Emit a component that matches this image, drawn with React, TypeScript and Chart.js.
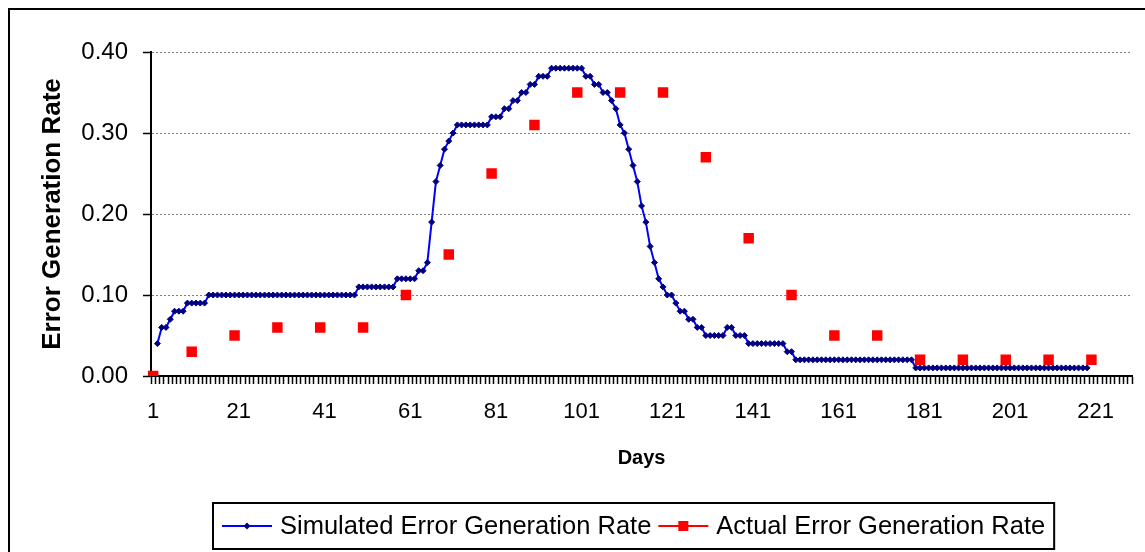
import React, { useEffect, useRef } from 'react';
import { Chart, registerables } from 'chart.js';

Chart.register(...registerables);

// ---- data ----
const DAY_COUNT = 229;
const dayLabels: string[] = Array.from({ length: DAY_COUNT }, (_, i) => String(i + 1));

// Simulated error generation rate, one value per day (day 1 .. day 229, null = no value)
const simulatedRate: (number | null)[] = [
  null, 0.04, 0.06, 0.06, 0.07, 0.08, 0.08, 0.08, 0.09, 0.09, // 1-10
  0.09, 0.09, 0.09, 0.10, 0.10, 0.10, 0.10, 0.10, 0.10, 0.10, // 11-20
  0.10, 0.10, 0.10, 0.10, 0.10, 0.10, 0.10, 0.10, 0.10, 0.10, // 21-30
  0.10, 0.10, 0.10, 0.10, 0.10, 0.10, 0.10, 0.10, 0.10, 0.10, // 31-40
  0.10, 0.10, 0.10, 0.10, 0.10, 0.10, 0.10, 0.10, 0.11, 0.11, // 41-50
  0.11, 0.11, 0.11, 0.11, 0.11, 0.11, 0.11, 0.12, 0.12, 0.12, // 51-60
  0.12, 0.12, 0.13, 0.13, 0.14, 0.19, 0.24, 0.26, 0.28, 0.29, // 61-70
  0.30, 0.31, 0.31, 0.31, 0.31, 0.31, 0.31, 0.31, 0.31, 0.32, // 71-80
  0.32, 0.32, 0.33, 0.33, 0.34, 0.34, 0.35, 0.35, 0.36, 0.36, // 81-90
  0.37, 0.37, 0.37, 0.38, 0.38, 0.38, 0.38, 0.38, 0.38, 0.38, // 91-100
  0.38, 0.37, 0.37, 0.36, 0.36, 0.35, 0.35, 0.34, 0.33, 0.31, // 101-110
  0.30, 0.28, 0.26, 0.24, 0.21, 0.19, 0.16, 0.14, 0.12, 0.11, // 111-120
  0.10, 0.10, 0.09, 0.08, 0.08, 0.07, 0.07, 0.06, 0.06, 0.05, // 121-130
  0.05, 0.05, 0.05, 0.05, 0.06, 0.06, 0.05, 0.05, 0.05, 0.04, // 131-140
  0.04, 0.04, 0.04, 0.04, 0.04, 0.04, 0.04, 0.04, 0.03, 0.03, // 141-150
  0.02, 0.02, 0.02, 0.02, 0.02, 0.02, 0.02, 0.02, 0.02, 0.02, // 151-160
  0.02, 0.02, 0.02, 0.02, 0.02, 0.02, 0.02, 0.02, 0.02, 0.02, // 161-170
  0.02, 0.02, 0.02, 0.02, 0.02, 0.02, 0.02, 0.02, 0.01, 0.01, // 171-180
  0.01, 0.01, 0.01, 0.01, 0.01, 0.01, 0.01, 0.01, 0.01, 0.01, // 181-190
  0.01, 0.01, 0.01, 0.01, 0.01, 0.01, 0.01, 0.01, 0.01, 0.01, // 191-200
  0.01, 0.01, 0.01, 0.01, 0.01, 0.01, 0.01, 0.01, 0.01, 0.01, // 201-210
  0.01, 0.01, 0.01, 0.01, 0.01, 0.01, 0.01, 0.01, 0.01, null, // 211-220
  null, null, null, null, null, null, null, null, null,       // 221-229
];

// Actual error generation rate, measured on some days
const actualDays: number[] = [1, 10, 20, 30, 40, 50, 60, 70, 80, 90, 100, 110, 120, 130, 140, 150, 160, 170, 180, 190, 200, 210, 220];
const actualRate: number[] = [0.00, 0.03, 0.05, 0.06, 0.06, 0.06, 0.10, 0.15, 0.25, 0.31, 0.35, 0.35, 0.35, 0.27, 0.17, 0.10, 0.05, 0.05, 0.02, 0.02, 0.02, 0.02, 0.02];

const seriesNames = ['Simulated Error Generation Rate', 'Actual Error Generation Rate'];
const yMin = 0;
const yMax = 0.4;
const yStep = 0.1;
const xLabelEvery = 20;

const FONT = '"Liberation Sans", Arial, Helvetica, sans-serif';

const actualSeries: (number | null)[] = dayLabels.map((_, i) => {
  const k = actualDays.indexOf(i + 1);
  return k >= 0 ? actualRate[k] : null;
});

// custom legend (box with line+marker samples)
const legendPlugin = {
  id: 'boxedLegend',
  afterDraw(chart: any) {
    const ctx: CanvasRenderingContext2D = chart.ctx;
    const dsets = chart.data.datasets;
    const fontSize = 25.5;
    const boxLeft = 203;
    const boxTop = 493;
    const boxH = 46;
    const pad = 9;
    const sampleW = 50;
    const gap = 8;
    const itemGap = 7;
    ctx.save();
    ctx.font = `${fontSize}px ${FONT}`;
    ctx.textBaseline = 'middle';
    ctx.textAlign = 'left';
    const cy = boxTop + boxH / 2;
    let x = boxLeft + pad;
    dsets.forEach((ds: any, i: number) => {
      ctx.strokeStyle = ds.legendLineColor;
      ctx.lineWidth = 2;
      ctx.beginPath();
      ctx.moveTo(x, cy);
      ctx.lineTo(x + sampleW, cy);
      ctx.stroke();
      const mx = x + sampleW / 2;
      ctx.fillStyle = ds.pointBackgroundColor;
      if (ds.pointStyle === 'rectRot') {
        const r = 3.5;
        ctx.beginPath();
        ctx.moveTo(mx - r, cy);
        ctx.lineTo(mx, cy - r);
        ctx.lineTo(mx + r, cy);
        ctx.lineTo(mx, cy + r);
        ctx.closePath();
        ctx.fill();
      } else {
        ctx.fillRect(mx - 5, cy - 5, 10, 10);
      }
      x += sampleW + gap;
      ctx.fillStyle = '#000';
      ctx.fillText(ds.label, x, cy + 1);
      x += ctx.measureText(ds.label).width + (i < dsets.length - 1 ? itemGap : 0);
    });
    const boxRight = x + pad;
    ctx.strokeStyle = '#000';
    ctx.lineWidth = 2;
    ctx.strokeRect(boxLeft, boxTop, boxRight - boxLeft, boxH);
    ctx.restore();
  },
};

export default function App() {
  const canvasRef = useRef<HTMLCanvasElement>(null);

  useEffect(() => {
    if (!canvasRef.current) return;
    Chart.defaults.font.family = FONT;
    Chart.defaults.color = '#000';
    const chart = new Chart(canvasRef.current, {
      type: 'line',
      data: {
        labels: dayLabels,
        datasets: [
          {
            label: seriesNames[0],
            data: simulatedRate,
            borderColor: '#0000FF',
            borderWidth: 2,
            backgroundColor: '#000080',
            pointStyle: 'rectRot',
            pointRadius: 3,
            pointBorderWidth: 1,
            pointBackgroundColor: '#000080',
            pointBorderColor: '#000080',
            tension: 0,
            spanGaps: false,
            legendLineColor: '#0000FF',
            order: 2,
          } as any,
          {
            label: seriesNames[1],
            data: actualSeries,
            showLine: false,
            borderColor: '#FF0000',
            backgroundColor: '#FF0000',
            pointStyle: 'rect',
            pointRadius: 7.4,
            pointBorderWidth: 0,
            pointBackgroundColor: '#FF0000',
            pointBorderColor: '#FF0000',
            legendLineColor: '#FF0000',
            order: 1,
          } as any,
        ],
      },
      options: {
        responsive: false,
        animation: false,
        events: [],
        layout: { padding: { left: 0, right: 9, top: 42, bottom: 76 } },
        plugins: {
          legend: { display: false },
          tooltip: { enabled: false },
          title: { display: false },
        },
        scales: {
          x: {
            type: 'category',
            offset: true,
            afterFit: (scale: any) => {
              scale.height = 100;
            },
            grid: {
              display: true,
              drawOnChartArea: false,
              drawTicks: true,
              tickLength: 8,
              tickColor: '#000',
              tickWidth: 1.5,
              offset: true,
            },
            border: { display: true, color: '#000', width: 2 },
            ticks: {
              autoSkip: false,
              maxRotation: 0,
              minRotation: 0,
              padding: 15,
              color: '#000',
              font: { size: 22 },
              callback: function (this: any, value: any, index: number) {
                return index % xLabelEvery === 0 ? this.getLabelForValue(value) : '';
              },
            },
            title: {
              display: true,
              text: 'Days',
              color: '#000',
              font: { size: 20, weight: 'bold' },
              padding: { top: 0, bottom: 6 },
            },
          },
          y: {
            min: yMin,
            max: yMax,
            afterFit: (scale: any) => {
              scale.width = 141;
            },
            grid: {
              color: (c: any) => (c.tick && c.tick.value === 0 ? 'rgba(0,0,0,0)' : '#808080'),
              lineWidth: 1,
              drawTicks: true,
              tickLength: 8,
              tickColor: '#000',
              tickWidth: 1.5,
              tickBorderDash: [],
            } as any,
            border: { display: true, color: '#000', width: 2, dash: [2, 2] },
            ticks: {
              stepSize: yStep,
              padding: 15,
              color: '#000',
              font: { size: 24 },
              callback: (v: any) => Number(v).toFixed(2),
            },
            title: {
              display: true,
              text: 'Error Generation Rate',
              color: '#000',
              font: { size: 26, weight: 'bold' },
              padding: { top: 27, bottom: 0 },
            },
          },
        },
      },
      plugins: [legendPlugin],
    });
    return () => chart.destroy();
  }, []);

  return (
    <div
      style={{
        position: 'fixed',
        left: 8,
        top: 8,
        width: 1137,
        height: 544,
        borderTop: '2px solid #000',
        borderLeft: '2px solid #000',
        boxSizing: 'border-box',
        background: '#fff',
      }}
    >
      <canvas ref={canvasRef} width={1135} height={542} style={{ display: 'block' }} />
    </div>
  );
}
